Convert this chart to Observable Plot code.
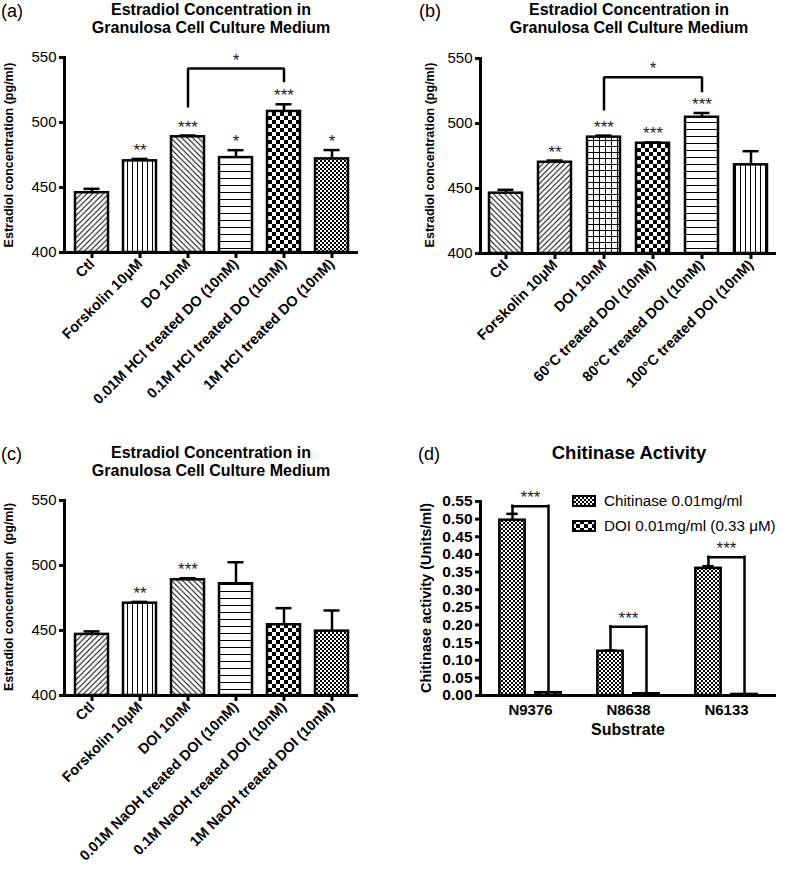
<!DOCTYPE html>
<html><head><meta charset="utf-8">
<script src="https://cdn.jsdelivr.net/npm/d3@7"></script>
<script src="https://cdn.jsdelivr.net/npm/@observablehq/plot@0.6"></script>
<style>
body{margin:0;background:#fff;font-family:"Liberation Sans",Arial,sans-serif;}
#root{position:relative;width:787px;height:869px;overflow:hidden;background:#fff;}
.abs{position:absolute;white-space:nowrap;color:#000;line-height:1.15;}
</style></head><body>
<svg width="0" height="0" style="position:absolute">
<defs>
 <pattern id="diagUp" patternUnits="userSpaceOnUse" width="5.5" height="5.5"><rect width="5.5" height="5.5" fill="#fff"/><path d="M0,5.5 L5.5,0 M-1,1 L1,-1 M4.5,6.5 L6.5,4.5" stroke="#000" stroke-width="1"/></pattern>
 <pattern id="diagDown" patternUnits="userSpaceOnUse" width="5.5" height="5.5"><rect width="5.5" height="5.5" fill="#fff"/><path d="M0,0 L5.5,5.5 M-1,4.5 L1,6.5 M4.5,-1 L6.5,1" stroke="#000" stroke-width="1"/></pattern>
 <pattern id="vert" patternUnits="userSpaceOnUse" width="5" height="5"><rect width="5" height="5" fill="#fff"/><path d="M2.5,0 L2.5,5" stroke="#000" stroke-width="1"/></pattern>
 <pattern id="horiz" patternUnits="userSpaceOnUse" width="7" height="7"><rect width="7" height="7" fill="#fff"/><path d="M0,3.5 L7,3.5" stroke="#000" stroke-width="1"/></pattern>
 <pattern id="grid" patternUnits="userSpaceOnUse" width="6" height="6"><rect width="6" height="6" fill="#fff"/><path d="M2.5,0 L2.5,6 M0,2.5 L6,2.5" stroke="#000" stroke-width="1"/></pattern>
 <pattern id="checker" patternUnits="userSpaceOnUse" width="8" height="8"><rect width="8" height="8" fill="#fff"/><rect width="4" height="4" fill="#000"/><rect x="4" y="4" width="4" height="4" fill="#000"/></pattern>
 <pattern id="fine" patternUnits="userSpaceOnUse" width="4" height="4"><rect width="4" height="4" fill="#fff"/><rect width="2" height="2" fill="#000"/><rect x="2" y="2" width="2" height="2" fill="#000"/></pattern>
</defs></svg>
<div id="root"></div>
<script>
// ---------- data ----------
const catsA = ["Ctl", "Forskolin 10\u03bcM", "DO 10nM", "0.01M HCl treated DO (10nM)", "0.1M HCl treated DO (10nM)", "1M HCl treated DO (10nM)"];
const valsA = [446, 470.5, 489, 473, 508.5, 472];
const errsA = [3, 1.5, 1, 5.7, 5.5, 6.8];
const starsA = ["", "**", "***", "*", "***", "*"];
const patsA = ["diagUp", "vert", "diagDown", "horiz", "checker", "fine"];
const bracketA = {from: catsA[2], mid: catsA[3], to: catsA[4], fromY: 511.5, top: 541.5, toY: 531, label: "*"};

const catsB = ["Ctl", "Forskolin 10\u03bcM", "DOI 10nM", "60\u00b0C treated DOI (10nM)", "80\u00b0C treated DOI (10nM)", "100\u00b0C treated DOI (10nM)"];
const valsB = [446.4, 470.2, 489.5, 484.8, 504.8, 468.2];
const errsB = [2.6, 1.3, 1.2, 0.6, 3.3, 10.5];
const starsB = ["", "**", "***", "***", "***", ""];
const patsB = ["diagDown", "diagUp", "grid", "checker", "horiz", "vert"];
const bracketB = {from: catsB[2], mid: catsB[3], to: catsB[4], fromY: 510, top: 535.6, toY: 524, label: "*"};

const catsC = ["Ctl", "Forskolin 10\u03bcM", "DOI 10nM", "0.01M NaOH treated DOI (10nM)", "0.1M NaOH treated DOI (10nM)", "1M NaOH treated DOI (10nM)"];
const valsC = [447, 471, 489, 486, 454.4, 449.5];
const errsC = [2.3, 1, 1.2, 16.5, 12.8, 15.9];
const starsC = ["", "**", "***", "", "", ""];
const patsC = ["diagUp", "vert", "diagDown", "horiz", "checker", "fine"];

const yTicksE = [400, 450, 500, 550];

const subs = ["N9376", "N8638", "N6133"];
const chitVals = [0.497, 0.1255, 0.3606];
const chitErrs = [0.018, 0.002, 0.006];
const doiVals = [0.008, 0.005, 0.003];
const doiErrs = [0.003, 0.001, 0.001];
const bracketTopD = [0.5365, 0.195, 0.392];
const starsD = ["***", "***", "***"];
const legendD = ["Chitinase 0.01mg/ml", "DOI 0.01mg/ml (0.33 \u03bcM)"];
const yTicksD = [0, 0.05, 0.10, 0.15, 0.20, 0.25, 0.30, 0.35, 0.40, 0.45, 0.50, 0.55];

// ---------- helpers ----------
const root = document.getElementById("root");
const FONT = '"Liberation Sans", Arial, sans-serif';
const baseStyle = {fontFamily: FONT, color: "#000", background: "transparent", overflow: "visible"};
const STAR = 17;

function place(el, left, top) {
  el.style.position = "absolute";
  el.style.left = left + "px";
  el.style.top = top + "px";
  root.appendChild(el);
}
function label(html, x, y, {size = 14, weight = "normal", rotate = 0, anchor = "center"} = {}) {
  const d = document.createElement("div");
  d.className = "abs";
  d.innerHTML = html;
  d.style.fontSize = size + "px";
  d.style.fontWeight = weight;
  d.style.left = x + "px";
  d.style.top = y + "px";
  const tx = anchor === "start" ? "0" : "-50%";
  d.style.transform = `translate(${tx},-50%)` + (rotate ? ` rotate(${rotate}deg)` : "");
  d.style.textAlign = "center";
  root.appendChild(d);
}

function estradiol(cats, vals, errs, stars, pats, bracket, g) {
  const rows = cats.map((c, i) => ({cat: c, val: vals[i], top: vals[i] + errs[i], star: stars[i], pat: `url(#${pats[i]})`}));
  const marks = [
    Plot.barY(rows, {x: "cat", y1: 400, y2: "val", fill: "pat", stroke: "#000", strokeWidth: 2.5}),
    Plot.ruleX(rows, {x: "cat", y1: "val", y2: "top", stroke: "#000", strokeWidth: 2.5}),
    Plot.tickY(rows, {x: "cat", y: "top", insetLeft: 8.5, insetRight: 8.5, stroke: "#000", strokeWidth: 2.5}),
    Plot.text(rows, {x: "cat", y: "top", text: "star", lineAnchor: "bottom", dy: -3, fontSize: STAR, fill: "#222"})
  ];
  if (bracket) {
    const pts = [
      {x: bracket.from, y: bracket.fromY}, {x: bracket.from, y: bracket.top},
      {x: bracket.to, y: bracket.top}, {x: bracket.to, y: bracket.toY}
    ];
    marks.push(Plot.line(pts, {x: "x", y: "y", stroke: "#000", strokeWidth: 2.5, strokeLinejoin: "miter", strokeLinecap: "butt"}));
    marks.push(Plot.text([bracket], {x: "mid", y: "top", text: "label", lineAnchor: "bottom", dy: -3, fontSize: STAR, fill: "#222"}));
  }
  marks.push(
    Plot.ruleY([400], {stroke: "#000", strokeWidth: 3}),
    Plot.frame({anchor: "left", stroke: "#000", strokeWidth: 3}),
    Plot.axisY({ticks: yTicksE, tickSize: 5, tickPadding: 3, strokeWidth: 3, fontSize: 15, label: null}),
    Plot.axisX({tickRotate: -45, tickSize: 6, tickPadding: 3, strokeWidth: 3, fontSize: 14.5, fontWeight: "bold", label: null})
  );
  return Plot.plot({
    ...g,
    style: baseStyle,
    x: {domain: cats, paddingInner: 0.32, paddingOuter: 0.18},
    y: {domain: [400, 550]},
    color: {type: "identity"},
    marks
  });
}

// ---------- panel (a) ----------
place(estradiol(catsA, valsA, errsA, starsA, patsA, bracketA,
  {width: 393, height: 420, marginLeft: 64, marginRight: 35, marginTop: 57, marginBottom: 168}), 0, 0);
// ---------- panel (b) ----------
place(estradiol(catsB, valsB, errsB, starsB, patsB, bracketB,
  {width: 394, height: 420, marginLeft: 87, marginRight: 11, marginTop: 58, marginBottom: 167}), 393, 0);
// ---------- panel (c) ----------
place(estradiol(catsC, valsC, errsC, starsC, patsC, null,
  {width: 393, height: 449, marginLeft: 64, marginRight: 35, marginTop: 80, marginBottom: 174}), 0, 420);

// ---------- panel (d) ----------
{
  const W = 394, ML = 87, MR = 11;
  const hb = (W - ML - MR) / subs.length / 2; // half band width
  const rows = subs.map((s, i) => ({
    sub: s, chit: chitVals[i], chitTop: chitVals[i] + chitErrs[i],
    doi: doiVals[i], doiTop: doiVals[i] + doiErrs[i], br: bracketTopD[i], star: starsD[i]
  }));
  const sw = 2.5;
  const svg = Plot.plot({
    width: W, height: 449, marginLeft: ML, marginRight: MR, marginTop: 81, marginBottom: 174,
    style: baseStyle,
    x: {domain: subs, padding: 0},
    y: {domain: [0, 0.55]},
    marks: [
      Plot.barY(rows, {x: "sub", y1: 0, y2: "chit", fill: "url(#fine)", stroke: "#000", strokeWidth: sw, insetLeft: hb - 31, insetRight: hb + 5}),
      Plot.barY(rows, {x: "sub", y1: 0, y2: "doi", fill: "url(#checker)", stroke: "#000", strokeWidth: sw, insetLeft: hb + 5, insetRight: hb - 31}),
      Plot.ruleX(rows, {x: "sub", y1: "chit", y2: "chitTop", dx: -18, stroke: "#000", strokeWidth: sw}),
      Plot.tickY(rows, {x: "sub", y: "chitTop", insetLeft: hb - 24, insetRight: hb + 12, stroke: "#000", strokeWidth: sw}),
      Plot.ruleX(rows, {x: "sub", y1: "chitTop", y2: "br", dx: -18, stroke: "#000", strokeWidth: sw, strokeLinecap: "square"}),
      Plot.ruleX(rows, {x: "sub", y1: "doiTop", y2: "br", dx: 18, stroke: "#000", strokeWidth: sw, strokeLinecap: "square"}),
      Plot.tickY(rows, {x: "sub", y: "br", insetLeft: hb - 18, insetRight: hb - 18, stroke: "#000", strokeWidth: sw, strokeLinecap: "square"}),
      Plot.text(rows, {x: "sub", y: "br", text: "star", lineAnchor: "bottom", dy: -3, fontSize: STAR, fill: "#222"}),
      Plot.ruleY([0], {stroke: "#000", strokeWidth: 3}),
      Plot.frame({anchor: "left", stroke: "#000", strokeWidth: 3}),
      Plot.axisY({ticks: yTicksD, tickFormat: d3.format(".2f"), tickSize: 5, tickPadding: 3, strokeWidth: 3, fontSize: 15.5, fontWeight: "bold", label: null}),
      Plot.axisX({tickSize: 0, tickPadding: 9, fontSize: 15, fontWeight: "bold", label: null})
    ]
  });
  place(svg, 393, 420);
}

// ---------- text overlays ----------
const titleE = "Estradiol Concentration in<br>Granulosa Cell Culture Medium";
label("(a)", 1, 11, {size: 18, anchor: "start"});
label("(b)", 419, 11, {size: 18, anchor: "start"});
label("(c)", 1, 454, {size: 18, anchor: "start"});
label("(d)", 418, 454, {size: 18, anchor: "start"});
label(titleE, 211, 19, {size: 16, weight: "bold"});
label(titleE, 629, 19, {size: 16, weight: "bold"});
label(titleE, 211, 462, {size: 16, weight: "bold"});
label("Chitinase Activity", 629, 453, {size: 18.5, weight: "bold"});

label("Estradiol concentration (pg/ml)", 9, 155, {size: 12.5, weight: "bold", rotate: -90});
label("Estradiol concentration (pg/ml)", 430, 155, {size: 12.5, weight: "bold", rotate: -90});
label("Estradiol concentration&nbsp;&nbsp;(pg/ml)", 9, 597, {size: 12.5, weight: "bold", rotate: -90});
label("Chitinase activity (Units/ml)", 426, 598, {size: 14.5, weight: "bold", rotate: -90});
label("Substrate", 628, 730, {size: 16, weight: "bold"});

// legend (d)
const legPats = ["fine", "checker"];
legendD.forEach((t, i) => {
  const y = 501 + i * 24.5;
  const s = document.createElementNS("http://www.w3.org/2000/svg", "svg");
  s.setAttribute("width", 24); s.setAttribute("height", 13);
  s.innerHTML = `<rect x="1" y="1" width="22" height="10" fill="url(#${legPats[i]})" stroke="#000" stroke-width="2"/>`;
  s.style.position = "absolute"; s.style.left = "572px"; s.style.top = (y - 6) + "px";
  root.appendChild(s);
  label(t, 604, y, {size: 15.2, anchor: "start"});
});
</script>
</body></html>
